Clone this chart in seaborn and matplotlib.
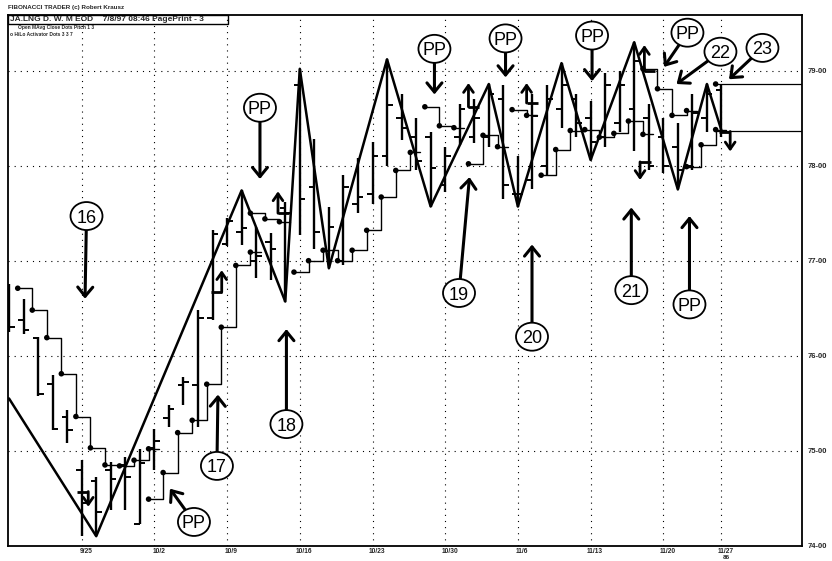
import numpy as np
import pandas as pd
import matplotlib
matplotlib.use("Agg")
import matplotlib.pyplot as plt
import seaborn as sns
from matplotlib.patches import Ellipse, Rectangle

# ------------------------------------------------------------------ data
bar_high = [76.75, 76.60, 76.20, 75.80, 75.43, 74.90, 74.72, 74.88, 74.93, 75.02,
            75.23, 75.48, 75.78, 76.48, 77.32, 77.45, 77.74, 77.35, 77.29, 77.62,
            79.02, 78.28, 77.57, 77.90, 78.08, 78.25, 79.12, 78.76, 78.50, 78.35,
            78.20, 78.65, 78.70, 78.86, 78.85, 78.10, 78.75, 78.85, 79.08, 78.75,
            78.68, 78.98, 79.00, 79.30, 78.65, 78.50, 78.45, 78.75, 78.86, 78.85]
bar_low = [76.25, 76.23, 75.58, 75.22, 75.08, 74.10, 74.10, 74.38, 74.38, 74.23,
           74.80, 75.25, 75.48, 75.25, 76.38, 77.15, 77.17, 76.82, 76.80, 76.57,
           77.27, 77.12, 76.92, 76.95, 77.50, 77.60, 78.00, 78.27, 77.95, 77.57,
           77.72, 78.22, 78.24, 78.20, 77.65, 77.57, 77.75, 77.90, 78.40, 78.30,
           78.06, 78.20, 78.35, 78.15, 77.95, 77.92, 77.75, 77.95, 78.35, 78.30]
bar_open = [76.59, 76.38, 76.19, 75.70, 75.36, 74.80, 74.68, 74.80, 74.85, 74.23,
            75.03, 75.34, 75.69, 75.69, 76.40, 77.18, 77.30, 77.00, 77.20, 77.55,
            78.85, 77.78, 77.10, 77.00, 77.60, 77.70, 78.10, 78.50, 78.30, 78.30,
            77.80, 78.30, 78.30, 78.30, 78.70, 77.70, 77.85, 78.00, 78.60, 78.70,
            78.50, 78.30, 78.45, 78.60, 78.50, 78.30, 78.20, 78.00, 78.50, 78.80]
bar_close = [76.30, 76.27, 75.60, 75.23, 75.22, 74.45, 74.35, 74.70, 74.72, 74.87,
             75.10, 75.44, 75.72, 76.40, 77.28, 77.42, 77.34, 77.05, 77.12, 77.50,
             77.65, 77.30, 77.35, 77.78, 77.67, 78.10, 78.64, 78.40, 78.05, 77.98,
             78.10, 78.60, 78.50, 78.75, 77.80, 77.70, 78.52, 78.70, 78.85, 78.45,
             78.25, 78.85, 78.85, 79.10, 78.00, 78.00, 77.95, 78.55, 78.75, 78.37]

zig_bar = [0, 6, 16, 19, 20, 22, 26, 29, 33, 35, 38, 40, 43, 46, 48, 49]
zig_price = [75.55, 74.10, 77.74, 76.57, 79.02, 76.92, 79.12, 77.57, 78.86, 77.57,
             79.08, 78.06, 79.30, 77.75, 78.86, 78.37]

nan = np.nan
hilo_bar = [0, 1, 2, 3, 4, 5, 6, 7, 8, 9, nan,
            9, 10, 11, 12, 13, 14, 15, 16, nan,
            16, 17, 18, nan,
            19, 20, 21, 22, 23, 24, 25, 26, 27, nan,
            28, 29, 30, nan,
            31, 32, 33, nan,
            34, 35, nan,
            36, 37, 38, 39, 40, 41, 42, 43, nan,
            43, 44, 45, 46, nan,
            46, 47, 48]
hilo_value = [76.71, 76.48, 76.19, 75.81, 75.36, 75.03, 74.85, 74.84, 74.90, 75.02, nan,
              74.49, 74.77, 75.19, 75.32, 75.70, 76.30, 76.95, 77.09, nan,
              77.50, 77.44, 77.41, nan,
              76.88, 77.00, 77.11, 77.00, 77.11, 77.32, 77.67, 77.95, 78.14, nan,
              78.62, 78.42, 78.40, nan,
              78.02, 78.32, 78.20, nan,
              78.59, 78.53, nan,
              77.90, 78.17, 78.37, 78.38, 78.30, 78.34, 78.47, 78.33, nan,
              79.02, 78.81, 78.53, 78.58, nan,
              77.99, 78.22, 78.38]

proj_levels = [78.86, 78.37]
proj_start_bar = 48

date_bars = [5, 10, 15, 20, 25, 30, 35, 40, 45, 49]
date_labels = ["9/25", "10/2", "10/9", "10/16", "10/23", "10/30", "11/6", "11/13", "11/20", "11/27"]
price_ticks = [74, 75, 76, 77, 78, 79]
price_labels = ["74-00", "75-00", "76-00", "77-00", "78-00", "79-00"]

note_text = ["16", "17", "PP", "18", "PP", "PP", "PP", "PP", "PP", "22", "23",
             "19", "20", "21", "PP"]
note_cx = [5.33, 14.30, 12.72, 19.08, 17.26, 29.26, 34.15, 40.10, 46.66, 48.93, 51.82,
           30.95, 35.97, 42.80, 46.80]
note_cy = [77.47, 74.84, 74.25, 75.28, 78.61, 79.23, 79.34, 79.37, 79.40, 79.20, 79.24,
           76.66, 76.20, 76.69, 76.54]
note_tip_x = [5.23, 14.37, 11.07, 19.08, 17.26, 29.26, 34.15, 40.10, 45.05, 45.91, 49.52,
              31.67, 35.97, 42.80, 46.80]
note_tip_y = [76.60, 75.59, 74.60, 76.28, 77.86, 78.75, 78.93, 78.89, 79.04, 78.86, 78.91,
              77.88, 77.17, 77.56, 77.47]

hook_bar = [5.45, 14.63, 18.5, 31.6, 35.6, 43.7, 43.4, 49.6]
hook_base = [74.57, 76.67, 77.50, 78.62, 78.66, 79.00, 78.04, 78.36]
hook_tip = [74.41, 76.90, 77.73, 78.87, 78.87, 79.27, 77.85, 78.15]
hook_side = [-1, -1, 1, 1, 1, 1, 1, -1]

# ------------------------------------------------------------------ style
W, H = 832, 561
AX_L, AX_R, AX_T, AX_B = 8, 802, 15, 545.7
X0_PX, BAR_PX = 9.0, 14.54
Y79_PX, PRICE_PX = 70.7, 95.0

sns.set_theme(style="white")
plt.rcParams["font.family"] = ["Liberation Sans", "DejaVu Sans"]

fig = plt.figure(figsize=(W / 100, H / 100), dpi=100)
ax = fig.add_axes([AX_L / W, 1 - AX_B / H, (AX_R - AX_L) / W, (AX_B - AX_T) / H])
ax.set_xlim((AX_L - X0_PX) / BAR_PX, (AX_R - X0_PX) / BAR_PX)
ax.set_ylim(79 - (AX_B - Y79_PX) / PRICE_PX, 79 + (Y79_PX - AX_T) / PRICE_PX)
xmin, xmax = ax.get_xlim()
ymin, ymax = ax.get_ylim()

for s in ax.spines.values():
    s.set_color("black")
    s.set_linewidth(1.3)

dots = (0, (1, 4.5))
ax.hlines(price_ticks[1:], xmin, xmax, colors="black", linestyles=dots, lw=0.8, zorder=1)
ax.vlines(date_bars, ymin, ymax, colors="black", linestyles=dots, lw=0.8, zorder=1)

# OHLC bars
df = pd.DataFrame({"bar": np.arange(len(bar_high)), "high": bar_high, "low": bar_low,
                   "open": bar_open, "close": bar_close})
TICK = 0.38
ax.vlines(df["bar"], df["low"], df["high"], colors="black", lw=1.7, zorder=3)
ax.hlines(df["open"], df["bar"] - TICK, df["bar"], colors="black", lw=1.4, zorder=3)
ax.hlines(df["close"], df["bar"], df["bar"] + TICK, colors="black", lw=1.4, zorder=3)

# zig-zag swing line
sns.lineplot(x=zig_bar, y=zig_price, estimator=None, sort=False, color="black",
             lw=1.8, ax=ax, zorder=4)

# HiLo activator steps with dots
SHIFT = 0.6
hb = np.array(hilo_bar, dtype=float)
hv = np.array(hilo_value, dtype=float)
breaks = np.where(np.isnan(hb))[0]
starts = np.r_[0, breaks + 1]
ends = np.r_[breaks, len(hb)]
for a, b in zip(starts, ends):
    xs = list(hb[a:b] + SHIFT) + [hb[b - 1] + SHIFT + 0.7]
    ys = list(hv[a:b]) + [hv[b - 1]]
    sns.lineplot(x=xs, y=ys, estimator=None, sort=False, drawstyle="steps-post",
                 color="black", lw=1.0, ax=ax, zorder=4)
ok = ~np.isnan(hb)
sns.scatterplot(x=hb[ok] + SHIFT, y=hv[ok], color="black", s=16, edgecolor="none",
                ax=ax, zorder=5)

# projection lines at the right
ax.hlines(proj_levels, proj_start_bar + SHIFT, xmax, colors="black", lw=0.9, zorder=4)
sns.scatterplot(x=[proj_start_bar + SHIFT], y=[proj_levels[0]], color="black", s=16,
                edgecolor="none", ax=ax, zorder=5)

# hooked signal arrows
for x, b0, t0, sd in zip(hook_bar, hook_base, hook_tip, hook_side):
    ax.plot([x, x + sd * 0.75], [b0, b0], color="black", lw=2.0, zorder=6,
            solid_capstyle="butt")
    ax.annotate("", xy=(x, t0), xytext=(x, b0),
                arrowprops=dict(arrowstyle="->,head_length=0.5,head_width=0.35",
                                lw=2.0, color="black", shrinkA=0, shrinkB=0,
                                mutation_scale=10), zorder=6)

# circled notes with arrows
ew = 32 / BAR_PX
eh = 28 / PRICE_PX
for t, cx, cy, tx, ty in zip(note_text, note_cx, note_cy, note_tip_x, note_tip_y):
    ax.annotate("", xy=(tx, ty), xytext=(cx, cy),
                arrowprops=dict(arrowstyle="->,head_length=0.55,head_width=0.45",
                                lw=2.2, color="black", shrinkA=10.5, shrinkB=0,
                                mutation_scale=12), zorder=7)
    ax.add_patch(Ellipse((cx, cy), ew, eh, facecolor="white", edgecolor="black",
                         lw=1.3, zorder=8))
    ax.text(cx, cy, t, ha="center", va="center_baseline", fontsize=13,
            color="black", zorder=9)

# axes ticks
ax.set_xticks([d + 0.3 for d in date_bars])
ax.set_xticklabels(date_labels, fontsize=4.8, fontweight="bold")
ax.set_yticks(price_ticks)
ax.set_yticklabels(price_labels, fontsize=5.5, fontweight="bold")
ax.yaxis.tick_right()
ax.tick_params(axis="x", length=0, pad=2)
ax.tick_params(axis="y", length=0, pad=4)
ax.set_xlabel("")
ax.set_ylabel("")
ax.text(49 + 0.3, -0.017, "86", transform=ax.get_xaxis_transform(), ha="center",
        va="top", fontsize=4.5, fontweight="bold")

# header texts
fig.text(8 / W, 1 - 7 / H, "FIBONACCI TRADER (c) Robert Krausz", fontsize=4.5,
         fontweight="bold", va="center", ha="left")
fig.patches.append(Rectangle((AX_L / W, 1 - 24 / H), 220 / W, 9 / H,
                             transform=fig.transFigure, fill=False, lw=1.0,
                             edgecolor="black"))
fig.text(10 / W, 1 - 19.5 / H, "JA.LNG D. W. M EOD    7/8/97 08:46 PagePrint - 3",
         fontsize=6, fontweight="bold", va="center", ha="left")
fig.text(18 / W, 1 - 28 / H, "Open MAvg Close Dots Pitch 1 3", fontsize=3.5,
         fontweight="bold", va="center", ha="left")
fig.text(10 / W, 1 - 34 / H, "o HiLo Activator Dots 3 3 7", fontsize=3.5,
         fontweight="bold", va="center", ha="left")

fig.savefig("out.png", dpi=100, facecolor="white")
